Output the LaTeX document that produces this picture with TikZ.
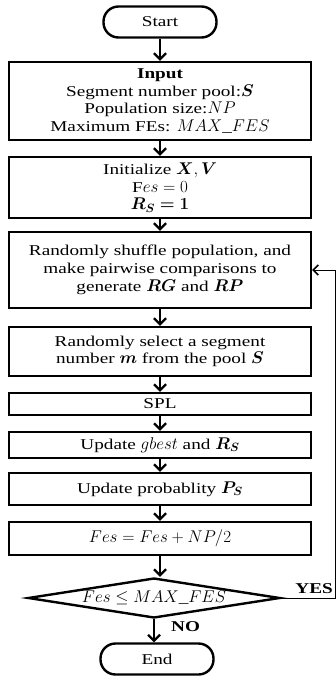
\documentclass[tikz,border=0pt]{standalone}
\usepackage{fix-cm}
\usepackage[no-math]{fontspec}
\setmainfont{Liberation Serif}[FakeStretch=1.28]
\usepackage{amsmath,bm}
\DeclareMathSizes{15}{17}{12}{10}
\usepackage{tikz}
\usetikzlibrary{shapes.geometric,arrows.meta}

\tikzset{
	box/.style={draw, line width=2.4pt, rectangle, text width=292pt, inner xsep=5pt, inner ysep=0pt, align=flush center},
	term/.style={draw, line width=2.4pt, rectangle, rounded corners=15pt, minimum width=113pt, minimum height=31pt, inner sep=0pt},
	decision/.style={draw, line width=2.4pt, diamond, minimum width=252pt, minimum height=40pt, inner sep=0pt},
	arrow/.style={line width=2.2pt, -{Straight Barb[length=6pt,width=12pt,line width=2.2pt]}},
	back/.style={line width=1pt, -{Straight Barb[length=5pt,width=10pt,line width=1.6pt]}}
}

\begin{document}
\begin{tikzpicture}[x=1pt, y=-1pt, font=\fontsize{15}{17.7}\selectfont]
	\useasboundingbox (0,0) rectangle (336,677);

	\node [term] (start) at (160,22) {Start};
	\node [box, minimum height=78pt] (input) at (160,101) {\textbf{Input}\\
		Segment number pool:$\bm{S}$\\
		Population size:$NP$\\
		Maximum FEs: $MAX\_FES$};
	\node [box, minimum height=61pt] (init) at (160,187.5) {Initialize $\bm{X},\bm{V}$\\
		F$es=0$\\
		$\bm{R_S=1}$};
	\node [box, minimum height=76pt] (shuf) at (160,270) {Randomly shuffle population, and\\ make pairwise comparisons to\\ generate $\bm{RG}$ and $\bm{RP}$};
	\node [box, minimum height=49pt] (select) at (160,351.5) {Randomly select a segment\\ number $\bm{m}$ from the pool $\bm{S}$};
	\node [box, minimum height=22pt] (spl) at (160,404) {SPL};
	\node [box, minimum height=26pt] (gbest) at (160,445) {Update $gbest$ and $\bm{R_S}$};
	\node [box, minimum height=32pt] (prob) at (160,489) {Update probablity $\bm{P_S}$};
	\node [box, minimum height=33pt] (fes) at (160,538.5) {$Fes=Fes+NP/2$};
	\node [decision] (check) at (154,598) {\makebox[0pt]{$Fes\le MAX\_FES$}};
	\node [term] (end) at (157,659) {End};

	\coordinate (loop) at (335,598);

	\draw [arrow] (start) -- (input);
	\draw [arrow] (input) -- (init);
	\draw [arrow] (init) -- (shuf);
	\draw [arrow] (shuf) -- (select);
	\draw [arrow] (select) -- (spl);
	\draw [arrow] (spl) -- (gbest);
	\draw [arrow] (gbest) -- (prob);
	\draw [arrow] (prob) -- (fes);
	\draw [arrow] (fes.south) -- (fes.south |- check.north);
	\draw [arrow] (check.south) -- (check.south |- end.north);
	\draw [back] (check.east) -- (loop) |- (shuf.east);

	\node [font=\fontsize{15}{17.7}\selectfont\bfseries, anchor=south east, inner sep=1pt] (yes) at (334,595) {YES};
	\node [font=\fontsize{15}{17.7}\selectfont\bfseries, anchor=west, inner sep=1pt] (no) at (170,627) {NO};
\end{tikzpicture}
\end{document}
